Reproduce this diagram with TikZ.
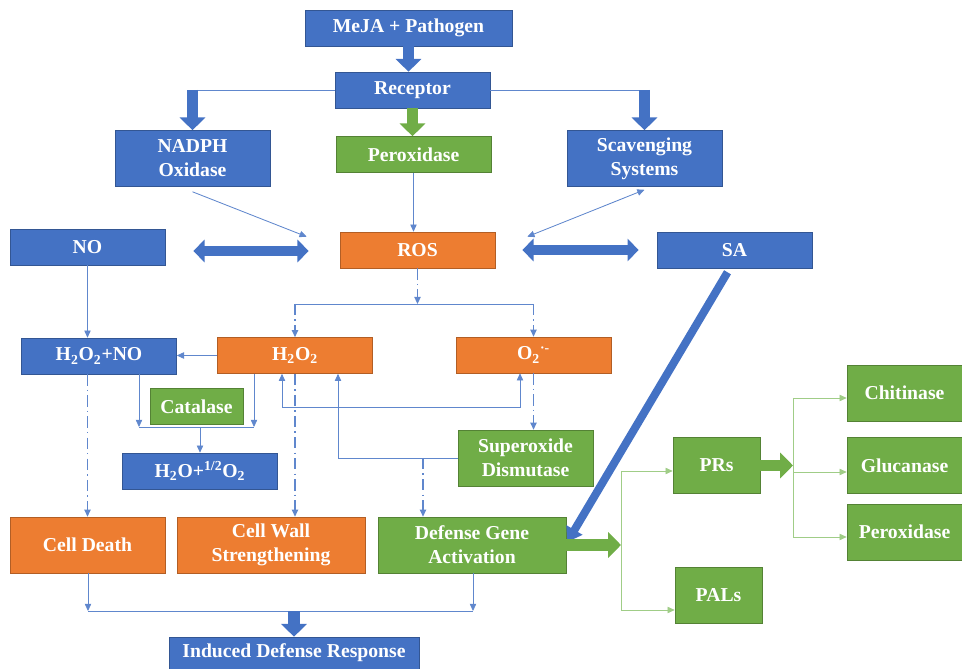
\documentclass[tikz,border=0pt]{standalone}
\usepackage{fontspec}
\setmainfont{Liberation Serif}
\usetikzlibrary{arrows.meta,calc}
\definecolor{cobalt}{RGB}{68,114,196}
\definecolor{tang}{RGB}{237,125,49}
\definecolor{moss}{RGB}{112,173,71}
\definecolor{sage}{RGB}{160,205,135}
\tikzset{
  box/.style={fill=#1,draw=#1!75!black,text=white,inner sep=1pt,
    minimum width=3.875cm,minimum height=0.9cm,align=center,
    font=\fontsize{14}{17}\selectfont\bfseries},
  box/.default=cobalt,
  tall/.style={minimum height=1.4cm},
  flow/.style={draw=#1,line width=0.6pt,-{Triangle[length=1.8mm,width=1.6mm]}},
  flow/.default=cobalt!85,
  flow both/.style={draw=cobalt!85,line width=0.6pt,
    {Triangle[length=1.8mm,width=1.6mm]}-{Triangle[length=1.8mm,width=1.6mm]}},
  link/.style={draw=#1,line width=0.6pt},
  link/.default=cobalt!85,
  dd/.style={flow,line width=1.1pt,dash pattern=on 8pt off 3pt on 1pt off 3pt},
  fat/.style={draw=#1,line width=0.28cm,-{Triangle[length=0.32cm,width=0.63cm]}},
  fat/.default=cobalt,
  fat both/.style={draw=cobalt,line width=0.25cm,
    {Triangle[length=0.28cm,width=0.55cm]}-{Triangle[length=0.28cm,width=0.55cm]}},
  slim/.style={draw=cobalt,line width=0.2cm,-{Triangle[length=0.35cm,width=0.45cm]}},
}
\begin{document}
\begin{tikzpicture}[x=0.025cm,y=-0.025cm]
  \useasboundingbox (0,0) rectangle (962,669);
  \node[box,minimum width=5.175cm] (meja) at (408.5,28) {MeJA + Pathogen};
  \node[box] (rec) at (412.5,90) {Receptor};
  \node[box,tall] (nadph) at (192.5,158.5) {NADPH\\Oxidase};
  \node[box=moss] (perox) at (413.5,154.5) {Peroxidase};
  \node[box,tall] (scav) at (644.5,158.5) {Scavenging\\Systems};
  \node[box] (no) at (87.5,247) {NO};
  \node[box=tang] (ros) at (417.5,250) {ROS};
  \node[box] (sa) at (734.5,250) {SA};
  \node[box] (hno) at (99,356) {H\textsubscript{2}O\textsubscript{2}+NO};
  \node[box=tang] (hh) at (295,355.5) {H\textsubscript{2}O\textsubscript{2}};
  \node[box=tang] (oo) at (533.5,355) {O\textsubscript{2}\textsuperscript{·-}};
  \node[box=moss,minimum width=2.325cm] (cat) at (196.5,406.5) {Catalase};
  \node[box] (water) at (200,471) {H\textsubscript{2}O+\textsuperscript{1/2}O\textsubscript{2}};
  \node[box=moss,tall,minimum width=3.375cm] (sod) at (525.5,458) {Superoxide\\Dismutase};
  \node[box=tang,tall] (death) at (87.5,545) {Cell Death};
  \node[box=tang,tall,minimum width=4.7cm] (wall) at (271,545) {Cell Wall\\Strengthening};
  \node[box=moss,tall,minimum width=4.7cm] (dga) at (472,545) {Defense Gene\\Activation};
  \node[box,minimum width=6.25cm,minimum height=0.8cm] (idr) at (294,653) {Induced Defense Response};
  \node[box=moss,tall,minimum width=2.175cm] (prs) at (716.5,465.5) {PRs};
  \node[box=moss,tall,minimum width=2.175cm] (pals) at (718.5,595.5) {PALs};
  \node[box=moss,tall,minimum width=2.875cm] (chit) at (904.5,393) {Chitinase};
  \node[box=moss,tall,minimum width=2.875cm] (gluc) at (904.5,465.5) {Glucanase};
  \node[box=moss,tall,minimum width=2.875cm] (perox2) at (904.5,532) {Peroxidase};
  % top
  \draw[fat] (meja.south) -- (meja.south |- rec.north);
  \draw[link] (rec.west) -- (rec.west -| nadph.north);
  \draw[fat] (rec.west -| nadph.north) -- (nadph.north);
  \draw[link] (rec.east) -- (rec.east -| scav.north);
  \draw[fat] (rec.east -| scav.north) -- (scav.north);
  \draw[fat=moss] (rec.south) -- (rec.south |- perox.north);
  \draw[flow] ($(nadph.south)+(0,5)$) -- ($(ros.north west)+(-33,5)$);
  \draw[flow] (perox.south) -- (perox.south |- ros.north);
  \draw[flow both] ($(ros.north east)+(32,5)$) -- ($(scav.south)+(0,3)$);
  \draw[fat both] ($(no.east)+(28,4)$) -- ($(ros.west)+(-31,1)$);
  \draw[fat both] ($(ros.east)+(27,0)$) -- ($(sa.west)+(-18,0)$);
  \draw[slim] ($(sa.south)+(-7,4)$) -- ($(dga.east)+(1,-3)$);
  \draw[flow] (no.south) -- (no.south |- hno.north);
  % ROS split
  \coordinate (split) at (417.5,304);
  \draw[dd] (ros.south) -- (split);
  \draw[link] (hh.north |- split) -- (oo.north |- split);
  \draw[dd] (hh.north |- split) -- (hh.north);
  \draw[dd] (oo.north |- split) -- (oo.north);
  \draw[flow] (hh.west) -- (hh.west -| hno.east);
  % catalase
  \coordinate (cl) at (139,427);
  \coordinate (cr) at (254,427);
  \draw[flow] (hno.south -| cl) -- (cl);
  \draw[flow] (hh.south -| cr) -- (cr);
  \draw[link] (cl) -- (cr);
  \draw[flow] (water.north |- cl) -- (water.north);
  \coordinate (lb) at (282,407);
  \coordinate (rb) at (520,407);
  \draw[flow both] (hh.south -| lb) -- (lb) -- (rb) -- (oo.south -| rb);
  \coordinate (sl) at (338,458);
  \coordinate (sd) at (423,458);
  \draw[flow] (sod.west) -- (sl) -- (sl |- hh.south);
  \draw[dd] (sd) -- (sd |- dga.north);
  \draw[dd] (oo.south) -- (oo.south |- sod.north);
  \draw[dd] (death.north |- hno.south) -- (death.north);
  \draw[dd] (hh.south) -- (hh.south |- wall.north);
  % bottom
  \coordinate (bl) at (88,611);
  \coordinate (br) at (473,611);
  \draw[flow] (death.south -| bl) -- (bl);
  \draw[flow] (dga.south -| br) -- (br);
  \draw[link] (bl) -- (br);
  \draw[fat] (idr.north |- bl) -- (idr.north);
  % green side
  \coordinate (gt) at (621,471);
  \coordinate (gb) at (621,610);
  \draw[fat=moss] (dga.east) -- (dga.east -| gt);
  \draw[link=sage] (gt) -- (gb);
  \draw[flow=sage] (gt) -- (gt -| prs.west);
  \draw[flow=sage] (gb) -- (gb -| pals.west);
  \coordinate (pt) at (793,398);
  \coordinate (pm) at (793,472);
  \coordinate (pb) at (793,537);
  \draw[fat=moss] (prs.east) -- (prs.east -| pm);
  \draw[link=sage] (pt) -- (pb);
  \draw[flow=sage] (pt) -- (pt -| chit.west);
  \draw[flow=sage] (pm) -- (pm -| gluc.west);
  \draw[flow=sage] (pb) -- (pb -| perox2.west);
\end{tikzpicture}
\end{document}
